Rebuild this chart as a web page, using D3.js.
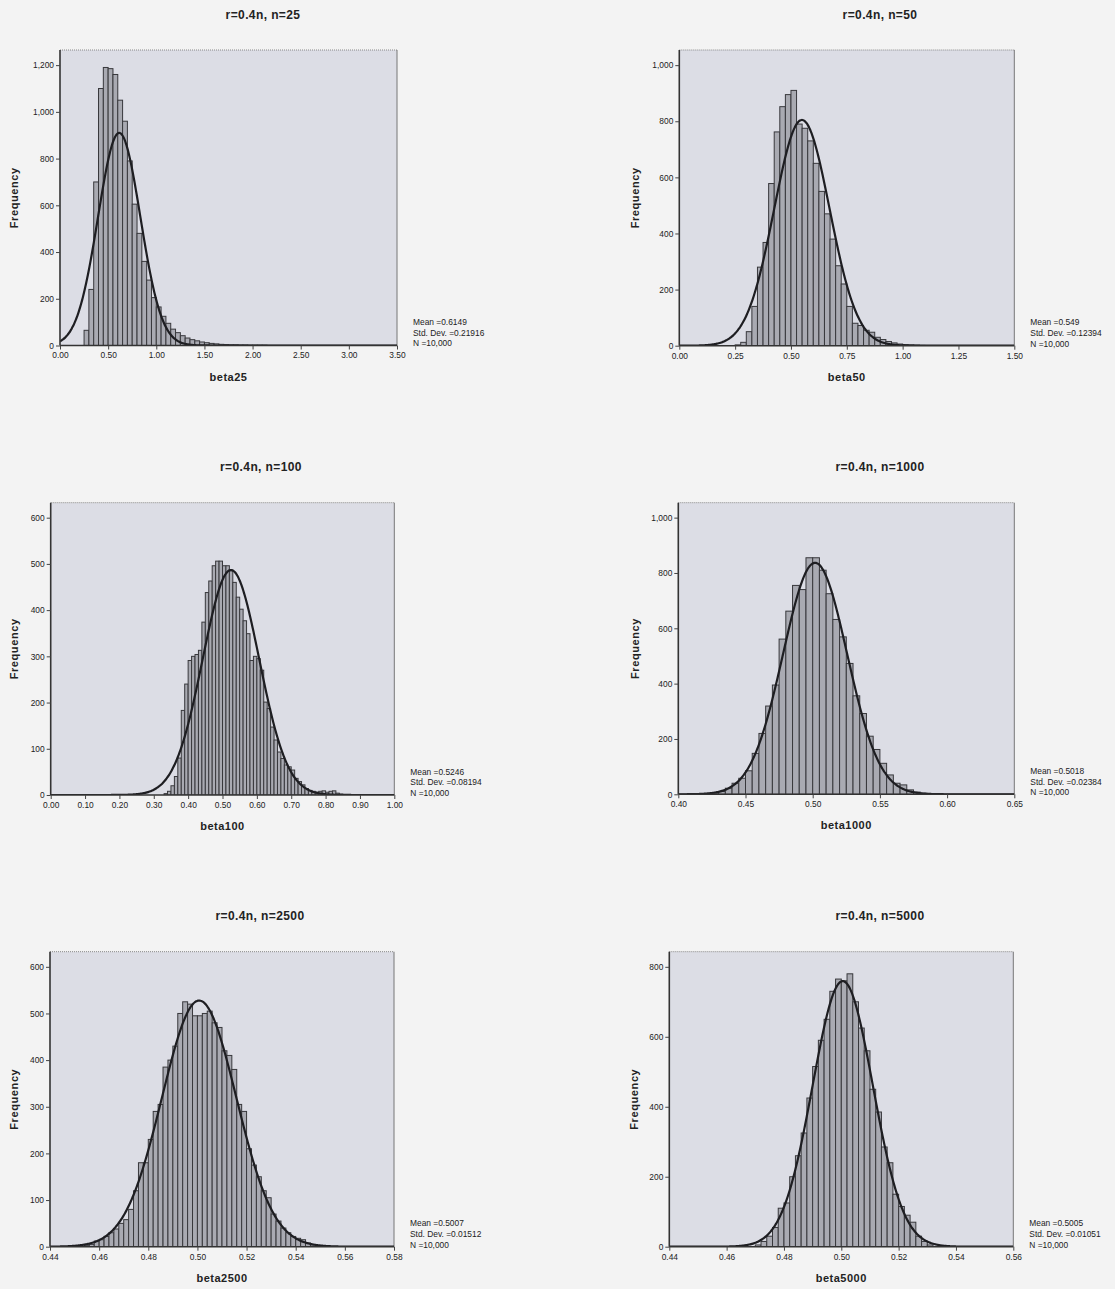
<!DOCTYPE html>
<html>
<head>
<meta charset="utf-8">
<script src="https://cdn.jsdelivr.net/npm/d3@7"></script>
<style>
  html, body { margin:0; padding:0; background:#f3f3f3; }
  svg { display:block; }
  text { font-family: "Liberation Sans", Arial, sans-serif; fill:#222; }
</style>
</head>
<body>
<svg id="chart" width="1115" height="1289"></svg>
<script>
// ---------------- DATA ----------------
const titles = ["r=0.4n, n=25", "r=0.4n, n=50", "r=0.4n, n=100", "r=0.4n, n=1000", "r=0.4n, n=2500", "r=0.4n, n=5000"];
const xLabels = ["beta25", "beta50", "beta100", "beta1000", "beta2500", "beta5000"];
const means = [0.6149, 0.549, 0.5246, 0.5018, 0.5007, 0.5005];
const meanLabels = ["0.6149", "0.549", "0.5246", "0.5018", "0.5007", "0.5005"];
const stdDevs = [0.21916, 0.12394, 0.08194, 0.02384, 0.01512, 0.01051];
const stdLabels = ["0.21916", "0.12394", "0.08194", "0.02384", "0.01512", "0.01051"];
const nLabel = "10,000";
const nValue = 10000;

// histogram bins: first bin start and bin width, then counts per bin
const binStarts = [0.25, 0.25, 0.33, 0.42, 0.454, 0.470];
const binWidths = [0.05, 0.025, 0.01, 0.005, 0.002, 0.002];

const counts25 = [65, 240, 700, 1100, 1190, 1185, 1160, 1050, 960, 790, 605, 480, 360, 280, 205, 165, 125, 95, 70, 55, 42, 32, 25, 20, 15, 12, 9, 7, 5, 4, 3, 3, 2, 2, 1, 1, 1, 1];
const counts50 = [3, 12, 50, 140, 280, 368, 578, 762, 852, 895, 910, 790, 775, 730, 650, 550, 470, 380, 285, 220, 140, 80, 72, 55, 48, 30, 22, 15, 10, 6, 4, 3, 2, 1];
const counts100 = [3, 8, 20, 40, 80, 183, 240, 291, 300, 304, 313, 374, 438, 463, 496, 506, 506, 496, 496, 485, 460, 428, 402, 377, 349, 291, 300, 295, 270, 201, 187, 147, 119, 93, 79, 65, 61, 54, 36, 29, 22, 14, 10, 8, 6, 8, 9, 6, 8, 9, 4, 2, 1];
const counts1000 = [3, 5, 10, 22, 40, 58, 85, 148, 220, 319, 395, 561, 662, 755, 740, 855, 855, 810, 725, 632, 569, 473, 356, 292, 210, 162, 112, 70, 40, 34, 16, 8, 4, 2];
const counts2500 = [3, 5, 12, 15, 22, 30, 38, 50, 58, 80, 120, 180, 180, 230, 290, 305, 385, 400, 430, 500, 525, 520, 495, 495, 500, 505, 480, 470, 420, 410, 380, 305, 290, 210, 175, 150, 120, 105, 70, 55, 40, 30, 22, 18, 15, 8, 4, 2];
const counts5000 = [5, 15, 30, 55, 110, 125, 200, 260, 325, 425, 515, 590, 650, 730, 765, 760, 780, 700, 625, 560, 450, 385, 285, 240, 150, 115, 90, 70, 30, 15, 5];
const allCounts = [counts25, counts50, counts100, counts1000, counts2500, counts5000];

const xDomains = [[0, 3.5], [0, 1.5], [0, 1.0], [0.40, 0.65], [0.44, 0.58], [0.44, 0.56]];
const xTickValues = [
  [0, 0.5, 1.0, 1.5, 2.0, 2.5, 3.0, 3.5],
  [0, 0.25, 0.5, 0.75, 1.0, 1.25, 1.5],
  [0, 0.1, 0.2, 0.3, 0.4, 0.5, 0.6, 0.7, 0.8, 0.9, 1.0],
  [0.40, 0.45, 0.50, 0.55, 0.60, 0.65],
  [0.44, 0.46, 0.48, 0.50, 0.52, 0.54, 0.56, 0.58],
  [0.44, 0.46, 0.48, 0.50, 0.52, 0.54, 0.56]
];
const yTickValues = [
  [0, 200, 400, 600, 800, 1000, 1200],
  [0, 200, 400, 600, 800, 1000],
  [0, 100, 200, 300, 400, 500, 600],
  [0, 200, 400, 600, 800, 1000],
  [0, 100, 200, 300, 400, 500, 600],
  [0, 200, 400, 600, 800]
];

// ---------------- LAYOUT ----------------
const frames = [
  {left: 60,    right: 397,    top: 50,    bottom: 345.5, cx: 263, ylx: 14},
  {left: 679.3, right: 1014.3, top: 50,    bottom: 345.7, cx: 880, ylx: 635},
  {left: 50.7,  right: 394.3,  top: 502.7, bottom: 795,   cx: 261, ylx: 14},
  {left: 678.3, right: 1014.3, top: 502.7, bottom: 794.3, cx: 880, ylx: 635},
  {left: 50,    right: 394,    top: 951.7, bottom: 1246.7, cx: 260, ylx: 14},
  {left: 669.3, right: 1013.3, top: 951.7, bottom: 1246.7, cx: 880, ylx: 634}
];
const headroom = 1.054;

const svg = d3.select("#chart");
const defs = svg.append("defs");
const fmtY = d3.format(",");
const fmtX = d3.format(".2f");

frames.forEach((f, i) => {
  const g = svg.append("g");
  const maxTick = d3.max(yTickValues[i]);
  const x = d3.scaleLinear().domain(xDomains[i]).range([f.left, f.right]);
  const y = d3.scaleLinear().domain([0, maxTick * headroom]).range([f.bottom, f.top]);

  const clipId = "clip" + i;
  defs.append("clipPath").attr("id", clipId)
    .append("rect").attr("x", f.left).attr("y", f.top)
    .attr("width", f.right - f.left).attr("height", f.bottom - f.top);

  // plot background
  g.append("rect").attr("x", f.left).attr("y", f.top)
    .attr("width", f.right - f.left).attr("height", f.bottom - f.top)
    .attr("fill", "#dcdde5");
  // top dotted border + right border
  g.append("line").attr("x1", f.left).attr("x2", f.right).attr("y1", f.top).attr("y2", f.top)
    .attr("stroke", "#888").attr("stroke-width", 1).attr("stroke-dasharray", "1,1");
  g.append("line").attr("x1", f.right).attr("x2", f.right).attr("y1", f.top).attr("y2", f.bottom)
    .attr("stroke", "#777").attr("stroke-width", 1);

  // bars
  const bw = binWidths[i];
  const bars = allCounts[i].map((c, k) => ({x0: binStarts[i] + k * bw, x1: binStarts[i] + (k + 1) * bw, c}));
  g.append("g").attr("clip-path", `url(#${clipId})`)
    .selectAll("rect").data(bars).join("rect")
    .attr("x", d => x(d.x0)).attr("width", d => x(d.x1) - x(d.x0))
    .attr("y", d => y(d.c)).attr("height", d => y(0) - y(d.c))
    .attr("fill", "#a9aab2").attr("stroke", "#38383c").attr("stroke-width", 1);

  // fitted normal curve from mean / sd / N / bin width
  const m = means[i], s = stdDevs[i];
  const xs = d3.range(0, 401).map(k => xDomains[i][0] + (xDomains[i][1] - xDomains[i][0]) * k / 400);
  const curve = xs.map(v => [v, nValue * bw * Math.exp(-0.5 * ((v - m) / s) ** 2) / (s * Math.sqrt(2 * Math.PI))]);
  g.append("path").attr("clip-path", `url(#${clipId})`)
    .datum(curve)
    .attr("d", d3.line().x(d => x(d[0])).y(d => y(d[1])).curve(d3.curveBasis))
    .attr("fill", "none").attr("stroke", "#1e1e22").attr("stroke-width", 2.2);

  // axes
  const yAxis = d3.axisLeft(y).tickValues(yTickValues[i]).tickFormat(fmtY).tickSize(4).tickPadding(2);
  const xAxis = d3.axisBottom(x).tickValues(xTickValues[i]).tickFormat(fmtX).tickSize(4).tickPadding(3);
  const ya = g.append("g").attr("transform", `translate(${f.left},0)`).call(yAxis);
  const xa = g.append("g").attr("transform", `translate(0,${f.bottom})`).call(xAxis);
  [ya, xa].forEach(a => {
    a.select(".domain").attr("stroke", "#333").attr("stroke-width", 1.6);
    a.selectAll(".tick line").attr("stroke", "#444").attr("stroke-width", 1);
    a.selectAll(".tick text").attr("font-size", 8.4).attr("fill", "#333")
      .attr("font-family", "'Liberation Sans', Arial, sans-serif");
  });
  ya.select(".domain").attr("d", `M0,${f.top}V${f.bottom}`);
  xa.select(".domain").attr("d", `M${f.left},0H${f.right}`);

  // title
  g.append("text").attr("x", f.cx).attr("y", f.top - 31.5)
    .attr("text-anchor", "middle").attr("font-size", 12).attr("font-weight", "bold")
    .attr("letter-spacing", 0.4)
    .text(titles[i]);

  // x label
  g.append("text").attr("x", (f.left + f.right) / 2).attr("y", f.bottom + 35)
    .attr("text-anchor", "middle").attr("font-size", 11).attr("font-weight", "bold")
    .attr("letter-spacing", 0.5)
    .text(xLabels[i]);

  // y label
  g.append("text")
    .attr("transform", `translate(${f.ylx},${(f.top + f.bottom) / 2}) rotate(-90)`)
    .attr("text-anchor", "middle").attr("dominant-baseline", "central")
    .attr("font-size", 11).attr("font-weight", "bold").attr("letter-spacing", 0.6)
    .text("Frequency");

  // stats
  const sx = f.right + 16;
  const lines = ["Mean =" + meanLabels[i], "Std. Dev. =" + stdLabels[i], "N =" + nLabel];
  lines.forEach((t, k) => {
    g.append("text").attr("x", sx).attr("y", f.bottom - 20.5 + k * 10.7)
      .attr("font-size", 8.4).attr("fill", "#333").text(t);
  });
});
</script>
</body>
</html>
